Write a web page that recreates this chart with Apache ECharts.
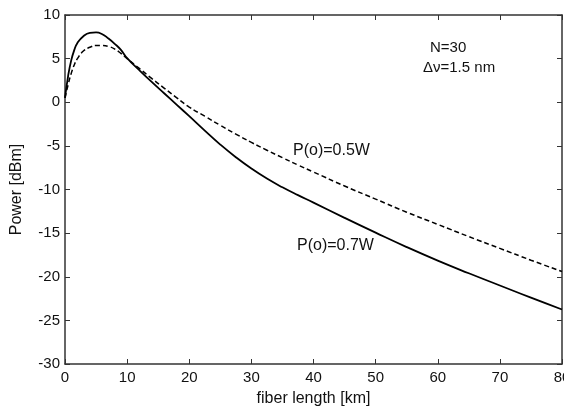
<!DOCTYPE html>
<html>
<head>
<meta charset="utf-8">
<script src="https://cdn.jsdelivr.net/npm/echarts@6/dist/echarts.min.js"></script>
<style>html,body{margin:0;padding:0;background:#fff}#c{width:564px;height:408px}</style>
</head>
<body>
<div id="c"></div>
<script>
const xKm = [0,0.5,1,1.5,2,3,4,5,6,7,8,9,10,12,14,16,18,20,22.5,25,27.5,30,32.5,35,37.5,40,45,50,55,60,65,70,75,80];
const p07 = [0.5,3.0,4.8,6.0,6.8,7.6,7.95,8.0,7.8,7.3,6.7,6.0,5.05,3.65,2.3,1.0,-0.3,-1.6,-3.25,-4.85,-6.3,-7.6,-8.75,-9.75,-10.65,-11.5,-13.25,-14.95,-16.6,-18.15,-19.6,-21.0,-22.4,-23.75];
const p05 = [0.5,2.0,3.3,4.3,5.0,5.9,6.3,6.5,6.5,6.4,6.1,5.6,5.0,3.85,2.7,1.6,0.5,-0.55,-1.6,-2.65,-3.65,-4.6,-5.5,-6.35,-7.2,-8.0,-9.6,-11.1,-12.6,-14.0,-15.4,-16.75,-18.1,-19.4];
const xTicks = {min:0, max:80, interval:10};
const yTicks = {min:-30, max:10, interval:5};
const xName = 'fiber length [km]';
const yName = 'Power [dBm]';
const labels = ['P(o)=0.5W','P(o)=0.7W','N=30','\u0394\u03BD=1.5 nm'];

const FONT = "'Liberation Sans', Arial, sans-serif";
const chart = echarts.init(document.getElementById('c'));
const axisLine = {onZero:false, lineStyle:{color:'#333', width:1.5}};
const tick = {inside:true, length:5, lineStyle:{color:'#333', width:1}};
chart.setOption({
  animation:false,
  backgroundColor:'#fff',
  grid:{left:65, right:2, top:15, bottom:44, outerBoundsMode:'none', containLabel:false},
  xAxis:[
    {type:'value', min:xTicks.min, max:xTicks.max, interval:xTicks.interval,
     name:xName, nameLocation:'middle', nameGap:27,
     nameTextStyle:{fontFamily:FONT, fontSize:16, color:'#111'},
     axisLine:axisLine, axisTick:tick, splitLine:{show:false},
     axisLabel:{fontFamily:FONT, fontSize:15, color:'#111', margin:6, showMaxLabel:true, hideOverlap:false}},
    {type:'value', position:'top', min:xTicks.min, max:xTicks.max, interval:xTicks.interval,
     axisLine:axisLine, axisTick:tick, splitLine:{show:false}, axisLabel:{show:false}}
  ],
  yAxis:[
    {type:'value', min:yTicks.min, max:yTicks.max, interval:yTicks.interval,
     name:yName, nameLocation:'middle', nameGap:40, nameRotate:90,
     nameTextStyle:{fontFamily:FONT, fontSize:16, color:'#111'},
     axisLine:axisLine, axisTick:tick, splitLine:{show:false},
     axisLabel:{fontFamily:FONT, fontSize:15, color:'#111', margin:5}},
    {type:'value', position:'right', min:yTicks.min, max:yTicks.max, interval:yTicks.interval,
     axisLine:axisLine, axisTick:tick, splitLine:{show:false}, axisLabel:{show:false}}
  ],
  series:[
    {type:'line', name:'0.7W', data:xKm.map((x,i)=>[x,p07[i]]), smooth:0.5, symbol:'none',
     lineStyle:{color:'#000', width:1.8}},
    {type:'line', name:'0.5W', data:xKm.map((x,i)=>[x,p05[i]]), smooth:0.5, symbol:'none',
     lineStyle:{color:'#000', width:1.5, type:[5,3]}}
  ],
  graphic:[
    {type:'text', left:293, top:143, style:{text:labels[0], font:'16px '+FONT, fill:'#111'}},
    {type:'text', left:297, top:238, style:{text:labels[1], font:'16px '+FONT, fill:'#111'}},
    {type:'text', left:430, top:40, style:{text:labels[2], font:'15px '+FONT, fill:'#111'}},
    {type:'text', left:423, top:60, style:{text:labels[3], font:'15px '+FONT, fill:'#111'}}
  ]
});
</script>
</body>
</html>
